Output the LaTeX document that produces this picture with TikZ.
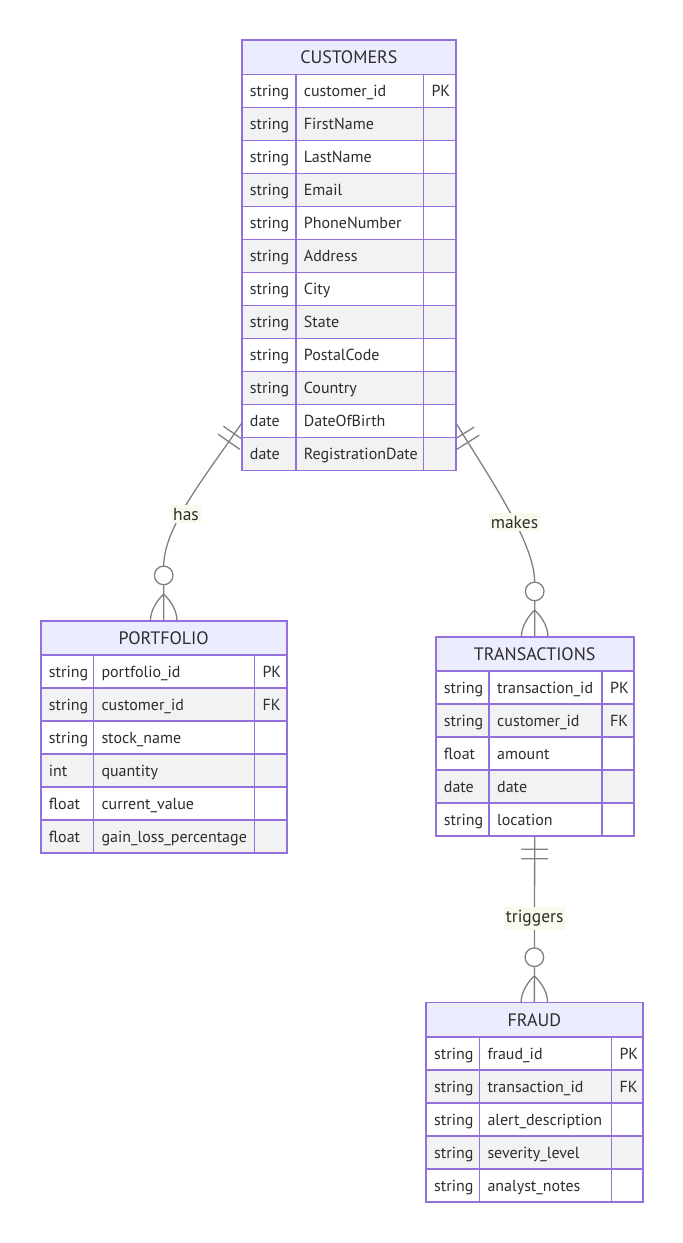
\documentclass[tikz,border=0pt]{standalone}
\usepackage{fontspec}
\setmainfont{PT Sans}
\usetikzlibrary{calc,decorations.markings,backgrounds}

\definecolor{erborder}{RGB}{147,112,219}
\definecolor{erhead}{RGB}{236,236,255}
\definecolor{errow}{RGB}{242,242,242}
\definecolor{ertext}{RGB}{45,45,45}
\definecolor{erline}{RGB}{128,128,128}
\definecolor{erlabel}{RGB}{247,250,237}

\tikzset{
  erframe/.style={draw=erborder, line width=1.6pt},
  celltext/.style={anchor=base west, inner sep=0pt, text=ertext, font=\fontsize{16}{19}\selectfont},
  titletext/.style={anchor=base, inner sep=0pt, text=ertext, font=\fontsize{18}{21}\selectfont},
  relline/.style={draw=erline, line width=1.3pt},
  onlyone/.style={postaction={decorate}, decoration={markings,
      mark=at position 13pt with {\draw[relline] (0pt,-13.3pt) -- (0pt,13.3pt);},
      mark=at position 22.6pt with {\draw[relline] (0pt,-13.3pt) -- (0pt,13.3pt);}}},
  zerocirc/.style={circle, draw=erline, line width=1.3pt, fill=white, minimum size=18.6pt, inner sep=0pt},
  rellabel/.style={fill=erlabel, text=ertext, inner xsep=2pt, inner ysep=3pt, font=\fontsize{17.5}{20}\selectfont},
  crowfoot/.pic={
    \draw[relline] (0pt,26.6pt) .. controls (-7pt,20pt) and (-13.3pt,10pt) .. (-13.3pt,0pt);
    \draw[relline] (0pt,26.6pt) .. controls (7pt,20pt) and (13.3pt,10pt) .. (13.3pt,0pt);
  },
}

% #1 name, #2 left, #3 first divider, #4 second divider, #5 right,
% #6 top, #7 title, #8 number of rows, #9 rows as type/name/key
\newcommand\erentity[9]{%
  \pgfmathsetmacro\erhb{#6+34.5}%
  \pgfmathsetmacro\erbot{#6+34.5+#8*33}%
  \fill[erhead] (#2,#6) rectangle (#5,\erhb);
  \node[titletext] (#1-title) at ({(#2+#5)/2},{#6+23.5}) {#7};
  \foreach \ty/\nm/\ky [count=\i] in {#9} {
    \pgfmathsetmacro\ya{#6+34.5+(\i-1)*33}
    \ifodd\i\relax\def\rowfill{white}\else\def\rowfill{errow}\fi
    \fill[\rowfill] (#2,\ya) rectangle (#5,\ya+33);
    \node[celltext] (#1-type-\i) at (#2+8,\ya+22) {\ty};
    \node[celltext] (#1-name-\i) at (#3+8,\ya+22) {\nm};
    \node[celltext] (#1-key-\i) at (#4+8,\ya+22) {\ky};
  }
  \foreach \k in {1,...,#8} {
    \draw[erframe] (#2,{#6+34.5+(\k-1)*33}) -- (#5,{#6+34.5+(\k-1)*33});
  }
  \draw[erframe] (#3,\erhb) -- (#3,\erbot);
  \draw[erframe] (#4,\erhb) -- (#4,\erbot);
  \node[erframe, anchor=north west, inner sep=0pt, outer sep=0pt,
        minimum width={(#5-#2)*1pt}, minimum height={(\erbot-#6)*1pt}] (#1) at (#2,#6) {};
}

\begin{document}
\begin{tikzpicture}[x=1pt, y=-1pt]
\useasboundingbox (0,0) rectangle (683,1243);

\erentity{cust}{241.7}{295.7}{423.3}{456}{40}{CUSTOMERS}{12}{
  string/customer\_id/PK, string/FirstName/{}, string/LastName/{}, string/Email/{},
  string/PhoneNumber/{}, string/Address/{}, string/City/{}, string/State/{},
  string/PostalCode/{}, string/Country/{}, date/DateOfBirth/{}, date/RegistrationDate/{}}

\erentity{port}{40.7}{93.3}{254.3}{286.7}{620.7}{PORTFOLIO}{6}{
  string/portfolio\_id/PK, string/customer\_id/FK, string/stock\_name/{},
  int/quantity/{}, float/current\_value/{}, float/gain\_loss\_percentage/{}}

\erentity{trans}{435.7}{489}{602}{633.7}{636.7}{TRANSACTIONS}{5}{
  string/transaction\_id/PK, string/customer\_id/FK, float/amount/{},
  date/date/{}, string/location/{}}

\erentity{fraud}{426}{479.3}{611.3}{642.7}{1002.5}{FRAUD}{5}{
  string/fraud\_id/PK, string/transaction\_id/FK, string/alert\_description/{},
  string/severity\_level/{}, string/analyst\_notes/{}}

% relationship lines sit under the entity boxes
\begin{pgfonlayer}{background}
  \fill[white] (0,0) rectangle (683,1243);
  \draw[relline, onlyone] ($(cust.south west)+(0,-47.4)$)
    .. controls +(-33.6,49.8) and +(0,-40) .. ($(port.north)+(0,-54.6)$) -- (port.north);
  \draw[relline, onlyone] ($(cust.south east)+(0,-47.4)$)
    .. controls +(31.2,51.2) and +(0,-40) .. ($(trans.north)+(0,-54.6)$) -- (trans.north);
  \draw[relline, onlyone] (trans.south) -- (fraud.north);
\end{pgfonlayer}

% zero-or-more ends
\node[zerocirc] (portcirc) at ($(port.north)+(0,-45.3)$) {};
\pic at (port.north) {crowfoot};
\node[zerocirc] (transcirc) at ($(trans.north)+(0,-45.3)$) {};
\pic at (trans.north) {crowfoot};
\node[zerocirc] (fraudcirc) at ($(fraud.north)+(0,-45.3)$) {};
\pic at (fraud.north) {crowfoot};

% relationship names
\node[rellabel] (lhas) at (186,514) {has};
\node[rellabel] (lmakes) at (514.5,522) {makes};
\node[rellabel] (ltriggers) at (534.7,918.5) {triggers};
\end{tikzpicture}
\end{document}
